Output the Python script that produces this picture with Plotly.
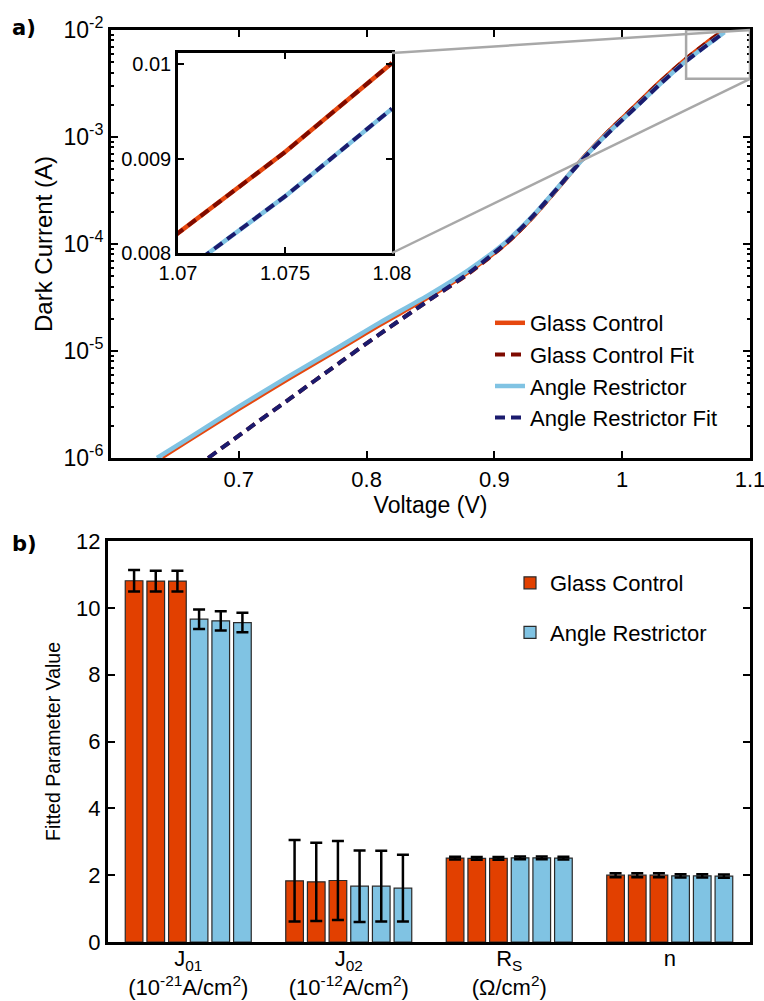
import math
import plotly.graph_objects as go

# ---------------- Panel a: dark I-V curves ----------------
voltage_glass = [0.64, 0.66, 0.70, 0.74, 0.78, 0.81, 0.85, 0.88, 0.91, 0.93, 0.95, 0.97,
                 0.99, 1.01, 1.03, 1.05, 1.065, 1.07, 1.075, 1.08]
current_glass = [1.02e-6, 1.45e-6, 2.88e-6, 5.62e-6, 1.07e-5, 1.75e-5, 3.27e-5, 5.52e-5,
                 1.04e-4, 1.79e-4, 3.37e-4, 6.46e-4, 1.15e-3, 1.94e-3, 3.30e-3, 5.37e-3,
                 7.41e-3, 8.21e-3, 9.07e-3, 1.0014e-2]

voltage_glass_fit = [0.676, 0.70, 0.74, 0.78, 0.81, 0.85, 0.88, 0.91, 0.93, 0.95, 0.97,
                     0.99, 1.01, 1.03, 1.05, 1.065, 1.07, 1.075, 1.08]
current_glass_fit = [1.00e-6, 1.62e-6, 3.59e-6, 7.94e-6, 1.43e-5, 3.05e-5, 5.30e-5, 1.03e-4,
                     1.78e-4, 3.36e-4, 6.43e-4, 1.15e-3, 1.94e-3, 3.30e-3, 5.37e-3, 7.41e-3,
                     8.21e-3, 9.07e-3, 1.0014e-2]

voltage_angle = [0.636, 0.66, 0.70, 0.74, 0.78, 0.81, 0.85, 0.88, 0.91, 0.93, 0.95, 0.97,
                 0.99, 1.01, 1.03, 1.05, 1.065, 1.07, 1.075, 1.08]
current_angle = [1.00e-6, 1.51e-6, 3.02e-6, 5.89e-6, 1.12e-5, 1.83e-5, 3.42e-5, 5.74e-5,
                 1.07e-4, 1.83e-4, 3.41e-4, 6.38e-4, 1.12e-3, 1.87e-3, 3.16e-3, 5.13e-3,
                 7.03e-3, 7.76e-3, 8.60e-3, 9.53e-3]

voltage_angle_fit = [0.676, 0.70, 0.74, 0.78, 0.81, 0.85, 0.88, 0.91, 0.93, 0.95, 0.97,
                     0.99, 1.01, 1.03, 1.05, 1.065, 1.07, 1.075, 1.08]
current_angle_fit = [1.00e-6, 1.62e-6, 3.59e-6, 7.94e-6, 1.43e-5, 3.05e-5, 5.37e-5, 1.05e-4,
                     1.82e-4, 3.40e-4, 6.34e-4, 1.11e-3, 1.86e-3, 3.15e-3, 5.11e-3, 7.01e-3,
                     7.76e-3, 8.60e-3, 9.53e-3]

voltage_ticks = [0.7, 0.8, 0.9, 1.0, 1.1]
current_ticks = [1e-6, 1e-5, 1e-4, 1e-3, 1e-2]
current_tick_labels = ["10<sup>-6</sup>", "10<sup>-5</sup>", "10<sup>-4</sup>",
                       "10<sup>-3</sup>", "10<sup>-2</sup>"]
inset_voltage_ticks = [1.07, 1.075, 1.08]
inset_current_ticks = [0.008, 0.009, 0.01]
inset_current_labels = ["0.008", "0.009", "0.01"]
zoom_voltage = [1.05, 1.1]
zoom_current = [3.5e-3, 1e-2]

# ---------------- Panel b: fitted parameters ----------------
parameters = [
    "J<sub>01</sub><br>(10<sup>-21</sup>A/cm<sup>2</sup>)",
    "J<sub>02</sub><br>(10<sup>-12</sup>A/cm<sup>2</sup>)",
    "R<sub>S</sub><br>(Ω/cm<sup>2</sup>)",
    "n",
]
glass_run1 = [10.81, 1.83, 2.51, 2.00]
glass_run2 = [10.80, 1.80, 2.50, 2.00]
glass_run3 = [10.80, 1.84, 2.50, 2.00]
glass_err1 = [0.32, 1.22, 0.04, 0.06]
glass_err2 = [0.31, 1.17, 0.04, 0.06]
glass_err3 = [0.31, 1.18, 0.04, 0.06]
angle_run1 = [9.66, 1.67, 2.52, 1.98]
angle_run2 = [9.61, 1.67, 2.52, 1.98]
angle_run3 = [9.56, 1.61, 2.51, 1.97]
angle_err1 = [0.29, 1.07, 0.04, 0.05]
angle_err2 = [0.29, 1.06, 0.04, 0.05]
angle_err3 = [0.29, 1.00, 0.04, 0.05]

# ---------------- styling ----------------
W, H = 764, 1001
ORANGE_LINE = "#E6480F"
ORANGE_BAR = "#E24000"
BLUE = "#80C3E3"
DARKRED = "#7E0A00"
NAVY = "#1B1B6E"
GREY = "#A8A8A8"
FONT = "Liberation Sans, Arial, Helvetica, sans-serif"


def fx(px):
    return px / W


def fy(py):
    return 1 - py / H


main_x = [fx(111), fx(750)]
main_y = [fy(458), fy(30)]
inset_x = [fx(178), fx(392)]
inset_y = [fy(253), fy(53)]
bar_x = [fx(108), fx(750)]
bar_y = [fy(942), fy(541)]

fig = go.Figure()

series = [
    ("Glass Control", voltage_glass, current_glass, ORANGE_LINE, "solid", 4.5),
    ("Glass Control Fit", voltage_glass_fit, current_glass_fit, DARKRED, "10px,6px", 4),
    ("Angle Restrictor", voltage_angle, current_angle, BLUE, "solid", 4.5),
    ("Angle Restrictor Fit", voltage_angle_fit, current_angle_fit, NAVY, "10px,6px", 4),
]
for name, v, i, col, dash, w in series:
    fig.add_trace(go.Scatter(x=v, y=i, mode="lines", name=name, legend="legend",
                             line=dict(color=col, width=w, dash=dash, shape="spline", smoothing=0.8),
                             xaxis="x", yaxis="y"))
for name, v, i, col, dash, w in series:
    fig.add_trace(go.Scatter(x=v, y=i, mode="lines", name=name, showlegend=False,
                             line=dict(color=col, width=w, dash=dash),
                             xaxis="x2", yaxis="y2"))

bar_sets = [
    ("Glass Control", "glass", ORANGE_BAR, glass_run1, glass_err1, True),
    ("Glass Control", "glass", ORANGE_BAR, glass_run2, glass_err2, False),
    ("Glass Control", "glass", ORANGE_BAR, glass_run3, glass_err3, False),
    ("Angle Restrictor", "angle", BLUE, angle_run1, angle_err1, True),
    ("Angle Restrictor", "angle", BLUE, angle_run2, angle_err2, False),
    ("Angle Restrictor", "angle", BLUE, angle_run3, angle_err3, False),
]
for name, grp, col, vals, errs, show in bar_sets:
    fig.add_trace(go.Bar(x=parameters, y=vals, name=name, legendgroup=grp, showlegend=show,
                         legend="legend2", marker=dict(color=col, line=dict(color="#2a2a2a", width=1.2)),
                         error_y=dict(type="data", array=errs, color="black", thickness=2.5, width=6),
                         xaxis="x3", yaxis="y3"))


def axis_common(size):
    return dict(showline=True, linecolor="black", ticks="inside", tickcolor="black",
                showgrid=False, zeroline=False, automargin=False, ticklabeloverflow="allow",
                tickfont=dict(size=size, color="black"))


# connector lines between the inset and the zoomed region
def main_to_paper(v, i):
    px = main_x[0] + (v - 0.6) / 0.5 * (main_x[1] - main_x[0])
    py = main_y[0] + (math.log10(i) + 6) / 4 * (main_y[1] - main_y[0])
    return px, py


c_top = main_to_paper(zoom_voltage[1], zoom_current[1])
c_bot = main_to_paper(zoom_voltage[1], zoom_current[0])

fig.update_layout(
    width=W, height=H, autosize=False,
    margin=dict(l=0, r=0, t=0, b=0, autoexpand=False),
    paper_bgcolor="white", plot_bgcolor="white",
    font=dict(family=FONT, size=22, color="black"),
    barmode="group", bargap=0.19, bargroupgap=0.185,
    xaxis=dict(domain=main_x, anchor="y", range=[0.6, 1.1], tickmode="array", tickvals=voltage_ticks,
               ticklen=7, tickwidth=2, linewidth=3, mirror="ticks",
               title=dict(text="Voltage (V)", standoff=0, font=dict(size=23)), **axis_common(22)),
    yaxis=dict(domain=main_y, anchor="x", type="log", range=[-6, -2], tickmode="array",
               tickvals=current_ticks, ticktext=current_tick_labels,
               ticklen=7, tickwidth=2, linewidth=3, mirror="ticks",
               minor=dict(ticks="inside", dtick="D1", ticklen=3, tickwidth=2, tickcolor="black"),
               title=dict(text="Dark Current (A)", standoff=5, font=dict(size=24)), **axis_common(23)),
    xaxis2=dict(domain=inset_x, anchor="y2", range=[1.07, 1.08], tickmode="array",
                tickvals=inset_voltage_ticks, ticklen=6, tickwidth=2, linewidth=2.5, mirror="ticks",
                **axis_common(20)),
    yaxis2=dict(domain=inset_y, anchor="x2", range=[0.008, 0.01012], tickmode="array",
                tickvals=inset_current_ticks, ticktext=inset_current_labels, ticklen=6, tickwidth=2,
                linewidth=2.5, mirror="ticks", **axis_common(20)),
    xaxis3=dict(domain=bar_x, anchor="y3", type="category", showline=True, linecolor="black",
                linewidth=3, mirror=True, ticks="", showgrid=False, zeroline=False, automargin=False,
                ticklabelstandoff=-5, tickfont=dict(size=22, color="black")),
    yaxis3=dict(domain=bar_y, anchor="x3", range=[0, 12], dtick=2, ticklen=7, tickwidth=2,
                linewidth=3, mirror="ticks",
                title=dict(text="Fitted Parameter Value", standoff=11, font=dict(size=19.5)),
                **axis_common(22)),
    legend=dict(x=fx(490), y=fy(302), xanchor="left", yanchor="top", bgcolor="rgba(0,0,0,0)",
                font=dict(size=22), tracegroupgap=0),
    legend2=dict(x=fx(510), y=fy(562), xanchor="left", yanchor="top", bgcolor="rgba(0,0,0,0)",
                 font=dict(size=22), tracegroupgap=18),
    shapes=[
        dict(type="rect", xref="x", yref="y", x0=zoom_voltage[0], x1=zoom_voltage[1],
             y0=zoom_current[0], y1=zoom_current[1], line=dict(color=GREY, width=2.5)),
        dict(type="line", xref="paper", yref="paper", x0=inset_x[1], y0=inset_y[1],
             x1=c_top[0], y1=c_top[1], line=dict(color=GREY, width=2.5)),
        dict(type="line", xref="paper", yref="paper", x0=inset_x[1], y0=inset_y[0],
             x1=c_bot[0], y1=c_bot[1], line=dict(color=GREY, width=2.5)),
    ],
    annotations=[
        dict(text="<b>a)</b>", x=fx(10), y=fy(28), xref="paper", yref="paper", xanchor="left",
             yanchor="middle", showarrow=False, font=dict(family="DejaVu Sans", size=21)),
        dict(text="<b>b)</b>", x=fx(10), y=fy(544), xref="paper", yref="paper", xanchor="left",
             yanchor="middle", showarrow=False, font=dict(family="DejaVu Sans", size=21)),
    ],
)

fig.write_html("out.html")
